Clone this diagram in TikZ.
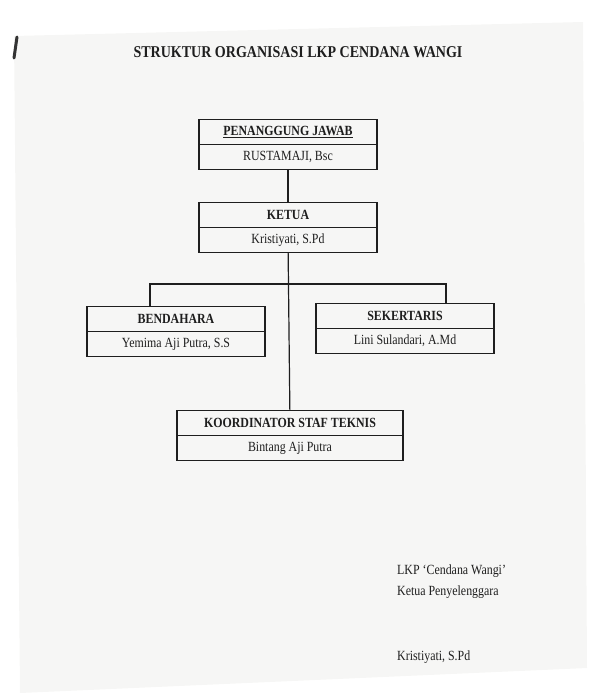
\documentclass[tikz,border=0pt]{standalone}
\usepackage{fontspec}
\setmainfont[FakeStretch=0.85]{Liberation Serif}
\usepackage{tikz}
\usetikzlibrary{positioning}
\usetikzlibrary{calc}
\definecolor{pagegray}{RGB}{246,246,245}
\definecolor{inkgray}{RGB}{30,30,30}
\newcommand{\boxfont}{\fontsize{14}{16}\selectfont}
\tikzset{head node/.style={rectangle,draw,line width=1.3pt,minimum width=178pt,minimum height=25pt,inner sep=0pt,outer sep=0pt,font=\boxfont\bfseries},
         name node/.style={head node,font=\boxfont},
         sign text/.style={anchor=west,inner sep=0pt,font=\boxfont},}

\begin{document}
\begin{tikzpicture}[x=1pt,y=-1pt,node distance=33pt,color=inkgray]
    \useasboundingbox (0,0) rectangle (599,693);
    % scanned page
    \fill[pagegray] (14,36) -- (583,22) -- (587,668) -- (20,693) -- cycle;
    \draw[line width=3pt,line cap=round,black!80] (17,37) -- (14,58);

	\node[font=\fontsize{16.5}{19}\selectfont\bfseries] (title) at (298,52) {STRUKTUR ORGANISASI LKP CENDANA WANGI};

	\node[head node] (pj) at (288,132) {\underline{PENANGGUNG JAWAB}};
    \node[name node] (pjn) [below = 0pt of pj] {RUSTAMAJI, Bsc};
    \node[head node] (ketua) [below = of pjn] {KETUA};
    \node[name node] (kn) [below = 0pt of ketua] {Kristiyati, S.Pd};
    \node[head node] (bend) at (176,319) {BENDAHARA};
    \node[name node] (bn) [below = 0pt of bend] {Yemima Aji Putra, S.S};
    \node[head node] (sek) at (405,316) {SEKERTARIS};
    \node[name node] (sn) [below = 0pt of sek] {Lini Sulandari, A.Md};
    \node[head node,minimum width=226pt] (koor) at (290,423) {KOORDINATOR STAF TEKNIS};
    \node[name node,minimum width=226pt] (kor) [below = 0pt of koor] {Bintang Aji Putra};

    \coordinate (bar) at (0,284);
    \coordinate (bendtop) at ([xshift=-26pt]bend.north);
    \coordinate (sektop) at ([xshift=41pt]sek.north);

    \path[draw,line width=1.2pt]
    (pjn) edge (ketua)
    (kn) edge (koor);
    \draw[line width=1.2pt] (bendtop) -- (bendtop |- bar) -- (sektop |- bar) -- (sektop);

    \node[sign text] (lkp) at (397,571) {LKP ‘Cendana Wangi’};
    \node[sign text] (penyel) [below = 8pt of lkp.south west,anchor=north west] {Ketua Penyelenggara};
    \node[sign text] (ttd) at (397,657) {Kristiyati, S.Pd};
\end{tikzpicture}
\end{document}
